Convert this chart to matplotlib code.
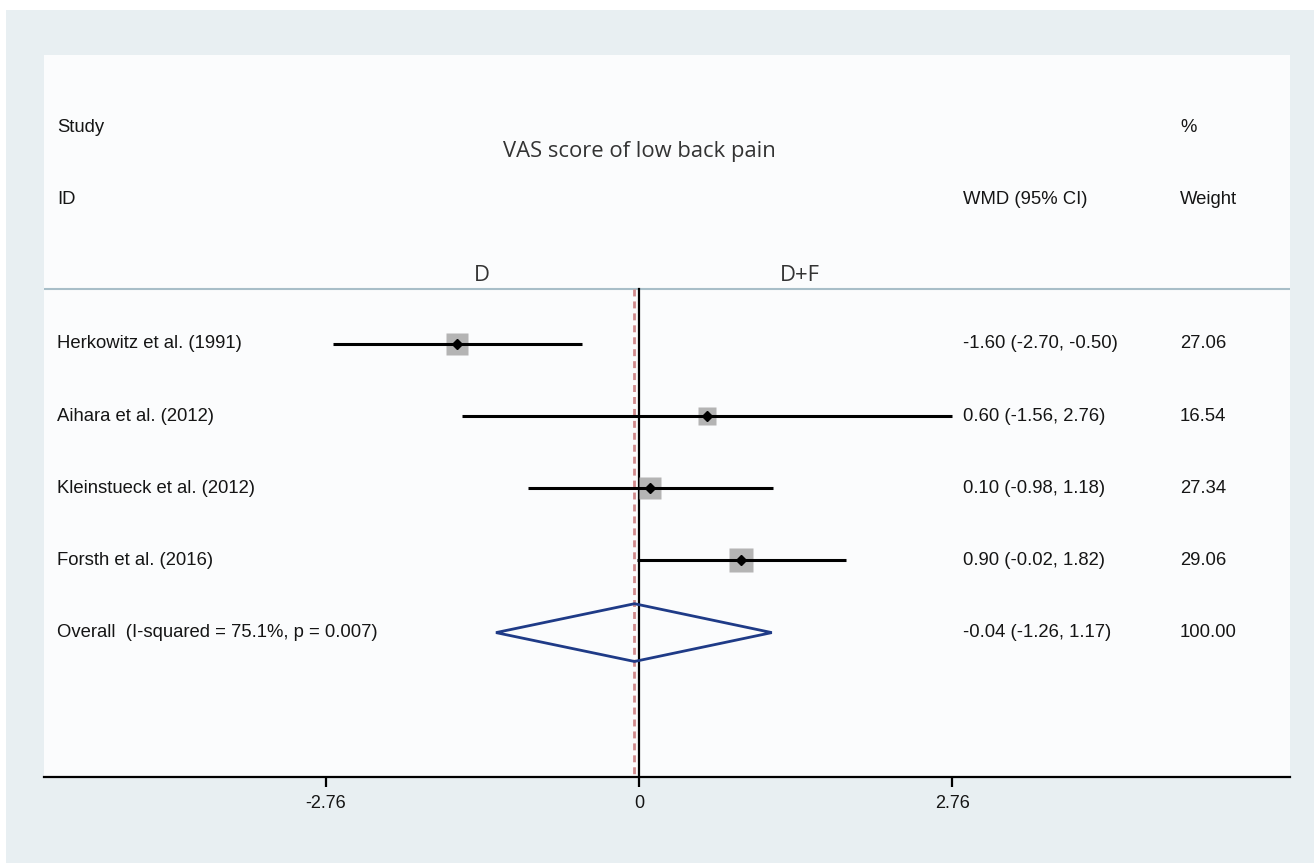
import matplotlib
matplotlib.use("Agg")
import matplotlib.pyplot as plt
from matplotlib.patches import Rectangle, Polygon
import numpy as np

studies = ["Herkowitz et al. (1991)", "Aihara et al. (2012)",
           "Kleinstueck et al. (2012)", "Forsth et al. (2016)"]
wmd = [-1.60, 0.60, 0.10, 0.90]
lo = [-2.70, -1.56, -0.98, -0.02]
hi = [-0.50, 2.76, 1.18, 1.82]
weights = [27.06, 16.54, 27.34, 29.06]
overall_label = "Overall  (I-squared = 75.1%, p = 0.007)"
overall = [-0.04, -1.26, 1.17]
overall_weight = 100.00
xticks = [-2.76, 0, 2.76]
xtick_labels = ["-2.76", "0", "2.76"]
title = "VAS score of low back pain"
left_label, right_label = "D", "D+F"

W, H = 1314, 863
fig = plt.figure(figsize=(W / 100, H / 100), dpi=100)
fig.patch.set_facecolor("white")
fig.patches.append(Rectangle((6 / W, 0), 1 - 6 / W, 1 - 10 / H,
                             transform=fig.transFigure, facecolor="#e8eff2",
                             edgecolor="none", zorder=-10))

px_per_unit = 113.5
zero_px = 639
L, R, T, B = 44, 1290, 55, 777
ax = fig.add_axes([L / W, 1 - B / H, (R - L) / W, (B - T) / H])
ax.set_facecolor("#fbfcfd")
ax.set_xlim((L - zero_px) / px_per_unit, (R - zero_px) / px_per_unit)
ax.set_ylim(6.0, -4.0)

txt_font = ["Liberation Sans", "DejaVu Sans"]
fs = 13.3
tcol = "#151515"
x_lab = (57 - zero_px) / px_per_unit
x_wmd = (963 - zero_px) / px_per_unit
x_wt = (1180 - zero_px) / px_per_unit

# header
ax.text(x_lab, -3.0, "Study", fontsize=fs, family=txt_font, va="center", color=tcol)
ax.text(x_lab, -2.0, "ID", fontsize=fs, family=txt_font, va="center", color=tcol)
ax.text(x_wt, -3.0, "%", fontsize=fs, family=txt_font, va="center", color=tcol)
ax.text(x_wt, -2.0, "Weight", fontsize=fs, family=txt_font, va="center", color=tcol)
ax.text(x_wmd, -2.0, "WMD (95% CI)", fontsize=fs, family=txt_font, va="center", color=tcol)
ax.text(0, -2.67, title, fontsize=15.8, family=["Open Sans", "DejaVu Sans"],
        ha="center", va="center", color="#333333")
ax.text(-1.38, -0.95, left_label, fontsize=15.8, family=["Open Sans", "DejaVu Sans"],
        ha="center", va="center", color="#333333")
ax.text(1.42, -0.95, right_label, fontsize=15.8, family=["Open Sans", "DejaVu Sans"],
        ha="center", va="center", color="#333333")
ax.axhline(-0.76, color="#a8bec8", lw=1.5, zorder=1)

# reference lines
ax.plot([0, 0], [-0.76, 6.0], color="black", lw=1.6, zorder=2)
ax.plot([overall[0], overall[0]], [-0.76, 6.0], color="#d08a8c", lw=2.0,
        ls=(0, (2.5, 1.8)), zorder=2)

# studies
for i, (s, m, l, h, w) in enumerate(zip(studies, wmd, lo, hi, weights)):
    ax.plot(m, i, marker="s", ms=3.15 * np.sqrt(w), color="#b4b4b4", mec="none", zorder=3)
    ax.plot([l, h], [i, i], color="black", lw=2.2, zorder=4, solid_capstyle="butt")
    ax.plot(m, i, marker="D", ms=5.5, color="black", zorder=5)
    ax.text(x_lab, i, s, fontsize=fs, family=txt_font, va="center", color=tcol)
    ax.text(x_wmd, i, f"{m:.2f} ({l:.2f}, {h:.2f})", fontsize=fs, family=txt_font,
            va="center", color=tcol)
    ax.text(x_wt, i, f"{w:.2f}", fontsize=fs, family=txt_font, va="center", color=tcol)

# overall
yo = len(studies)
est, ol, oh = overall
diamond = Polygon([[ol, yo], [est, yo - 0.4], [oh, yo], [est, yo + 0.4]],
                  closed=True, fill=False, edgecolor="#1f3b87", lw=2, zorder=6)
ax.add_patch(diamond)
ax.text(x_lab, yo, overall_label, fontsize=fs, family=txt_font, va="center", color=tcol)
ax.text(x_wmd, yo, f"{est:.2f} ({ol:.2f}, {oh:.2f})", fontsize=fs, family=txt_font,
        va="center", color=tcol)
ax.text(x_wt, yo, f"{overall_weight:.2f}", fontsize=fs, family=txt_font,
        va="center", color=tcol)

for sp in ["top", "left", "right"]:
    ax.spines[sp].set_visible(False)
ax.spines["bottom"].set_linewidth(1.6)
ax.set_yticks([])
ax.set_xticks(xticks)
ax.set_xticklabels(xtick_labels, family=txt_font, fontsize=13, color=tcol)
ax.tick_params(axis="x", length=7, width=1.6, pad=6)

fig.savefig("out.png", dpi=100, facecolor=fig.get_facecolor())
